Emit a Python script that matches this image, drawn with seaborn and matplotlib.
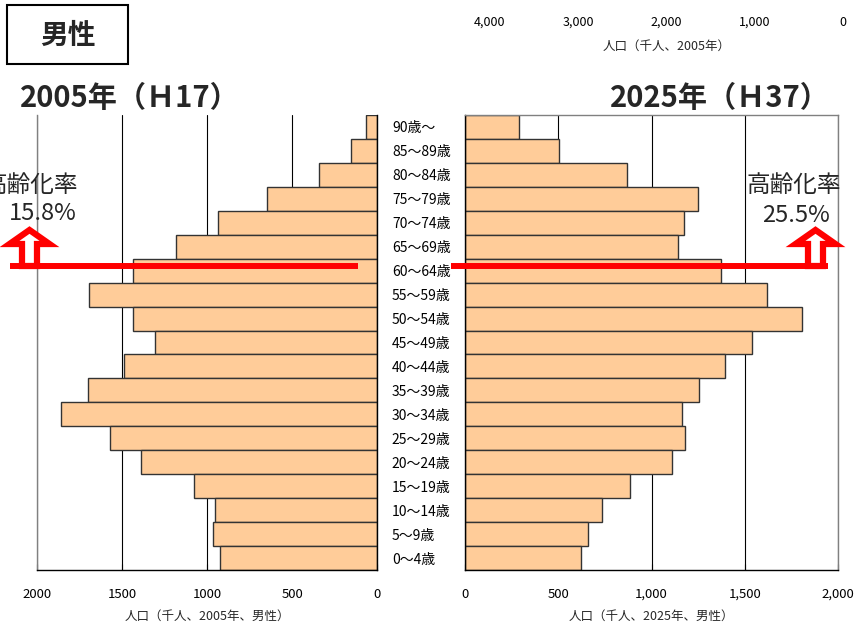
import matplotlib
matplotlib.use('Agg')
import matplotlib.pyplot as plt
import seaborn as sns
import pandas as pd
from matplotlib.patches import Polygon, Rectangle
from matplotlib.ticker import FuncFormatter

# age groups, top to bottom
ages = ['90歳～', '85～89歳', '80～84歳', '75～79歳', '70～74歳', '65～69歳',
        '60～64歳', '55～59歳', '50～54歳', '45～49歳', '40～44歳', '35～39歳',
        '30～34歳', '25～29歳', '20～24歳', '15～19歳', '10～14歳', '5～9歳', '0～4歳']
# male population (thousands)
male_2005 = [68, 153, 343, 651, 939, 1182, 1439, 1696, 1439, 1308,
             1492, 1704, 1859, 1572, 1388, 1080, 955, 968, 925]
male_2025 = [292, 506, 870, 1251, 1176, 1144, 1372, 1620, 1807, 1538,
             1392, 1253, 1165, 1178, 1111, 885, 737, 662, 623]
ticks_bottom = [0, 500, 1000, 1500, 2000]
ticks_top = [4000, 3000, 2000, 1000, 0]
rate_2005 = '15.8%'
rate_2025 = '25.5%'

df = pd.DataFrame({'age': ages, 'y2005': male_2005, 'y2025': male_2025})

sns.set_theme(style='white')
plt.rcParams['font.family'] = ['Noto Sans CJK JP', 'DejaVu Sans']

W, H = 855, 626
fig = plt.figure(figsize=(W / 100, H / 100), dpi=100)


def box(x0, x1, y0, y1):
    return [x0 / W, 1 - y1 / H, (x1 - x0) / W, (y1 - y0) / H]


bar_kw = dict(orient='h', color='#FFCC99', saturation=1, width=1.0,
              edgecolor='#333333', linewidth=1.0, zorder=2)

ax_l = fig.add_axes(box(37.3, 377.3, 115, 570))
ax_r = fig.add_axes(box(464.7, 838.3, 115, 570))

sns.barplot(data=df, x='y2005', y='age', ax=ax_l, **bar_kw)
sns.barplot(data=df, x='y2025', y='age', ax=ax_r, **bar_kw)

for ax in (ax_l, ax_r):
    ax.set_ylim(len(ages) - 0.5, -0.5)
    ax.set_xlim(0, 2000)
    ax.set_xticks(ticks_bottom)
    ax.set_axisbelow(True)
    ax.grid(axis='x', color='black', linewidth=0.8)
    ax.grid(axis='y', visible=False)
    ax.tick_params(axis='x', direction='in', length=4, width=0.8, color='black',
                   labelsize=9.5, pad=13, bottom=True, labelcolor='black')
    ax.set_ylabel('')
    for s in ax.spines.values():
        s.set_linewidth(1.0)
        s.set_zorder(3)

ax_l.invert_xaxis()
ax_l.xaxis.set_major_formatter(FuncFormatter(lambda v, p: f'{int(v)}'))
ax_r.xaxis.set_major_formatter(FuncFormatter(lambda v, p: f'{int(v):,}'))

ax_l.spines['top'].set_visible(False)
ax_l.spines['left'].set_color('#808080')
ax_l.spines['right'].set_color('black')
ax_l.spines['bottom'].set_color('black')
ax_r.spines['top'].set_color('#808080')
ax_r.spines['right'].set_color('#808080')
ax_r.spines['left'].set_color('black')
ax_r.spines['bottom'].set_color('black')

ax_l.yaxis.tick_right()
ax_l.tick_params(axis='y', length=0, pad=10.5, labelsize=10, labelcolor='black')
ax_r.tick_params(axis='y', left=False, labelleft=False)

ax_l.set_xlabel('人口（千人、2005年、男性）', fontsize=9, labelpad=6)
ax_r.set_xlabel('人口（千人、2025年、男性）', fontsize=9, labelpad=6)

# stray top scale
ax_t = fig.add_axes(box(490, 843, 12, 13))
ax_t.set_xlim(4000, 0)
ax_t.set_xticks(ticks_top)
ax_t.xaxis.set_major_formatter(FuncFormatter(lambda v, p: f'{int(v):,}'))
ax_t.set_yticks([])
ax_t.tick_params(axis='x', length=0, pad=2, labelsize=9, labelcolor='black')
for s in ax_t.spines.values():
    s.set_visible(False)
ax_t.patch.set_alpha(0)
ax_t.set_xlabel('人口（千人、2005年）', fontsize=9, labelpad=8)

# overlay in pixel coordinates for annotations
ov = fig.add_axes([0, 0, 1, 1])
ov.set_xlim(0, W)
ov.set_ylim(H, 0)
ov.axis('off')
ov.patch.set_alpha(0)

ov.add_patch(Rectangle((7, 5), 121, 59, fill=False, edgecolor='black', linewidth=1.5))
ov.text(67.5, 36, '男性', fontsize=20, fontweight='bold', ha='center', va='center')

ov.text(20, 107, '2005年（Ｈ17）', fontsize=21, fontweight='bold', ha='left', va='baseline')
ov.text(830, 107, '2025年（Ｈ37）', fontsize=21, fontweight='bold', ha='right', va='baseline')

ov.text(78, 185, '高齢化率', fontsize=17, ha='right', va='center')
ov.text(42.5, 213, rate_2005, fontsize=17, ha='center', va='center')
ov.text(794, 186, '高齢化率', fontsize=17, ha='center', va='center')
ov.text(796, 215, rate_2025, fontsize=17, ha='center', va='center')

red = '#FF0000'
ov.plot([10, 358], [266, 266], color=red, linewidth=4.3, solid_capstyle='butt')
ov.plot([451, 828], [266, 266], color=red, linewidth=4.3, solid_capstyle='butt')


def up_arrow(cx):
    pts = [(cx - 7.5, 266), (cx - 7.5, 244), (cx - 20, 244), (cx, 230),
           (cx + 20, 244), (cx + 7.5, 244), (cx + 7.5, 266)]
    ov.add_patch(Polygon(pts, closed=True, facecolor='white', edgecolor=red,
                         linewidth=4.5, joinstyle='miter'))


up_arrow(29.5)
up_arrow(815.5)

fig.savefig('out.png', dpi=100)
